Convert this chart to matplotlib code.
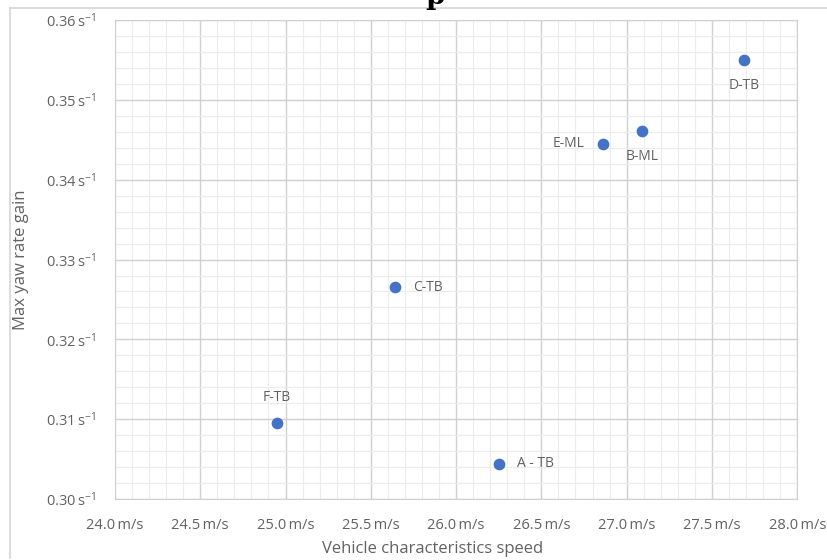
import matplotlib
matplotlib.use("Agg")
import matplotlib.pyplot as plt
from matplotlib.ticker import MultipleLocator, FuncFormatter
from matplotlib.lines import Line2D

plt.rcParams["font.family"] = ["Open Sans", "DejaVu Sans"]
plt.rcParams["mathtext.fontset"] = "custom"
plt.rcParams["mathtext.rm"] = "Open Sans"
plt.rcParams["mathtext.it"] = "Open Sans"
plt.rcParams["mathtext.default"] = "regular"

# Vehicle data
vehicles = ["D-TB", "B-ML", "E-ML", "C-TB", "F-TB", "A - TB"]
char_speed = [27.69, 27.09, 26.86, 25.64, 24.95, 26.25]   # m/s
yaw_gain = [0.3550, 0.3461, 0.3445, 0.3265, 0.3095, 0.3044]  # 1/s

# label offsets (points) and alignment per vehicle
label_pos = {
    "D-TB": ((0, -13), "center", "top"),
    "B-ML": ((0, -13), "center", "top"),
    "E-ML": ((-13, 0), "right", "center"),
    "C-TB": ((13, 0), "left", "center"),
    "F-TB": ((0, 13), "center", "bottom"),
    "A - TB": ((13, 0), "left", "center"),
}

grey = "#626262"

fig = plt.figure(figsize=(8.27, 5.6), dpi=100)
ax = fig.add_axes([0.139, 0.109, 0.825, 0.855])

ax.scatter(char_speed, yaw_gain, s=55, color="#4472C4", zorder=3)
for name, xv, yv in zip(vehicles, char_speed, yaw_gain):
    off, ha, va = label_pos[name]
    ax.annotate(name, (xv, yv), xytext=off, textcoords="offset points",
                ha=ha, va=va, fontsize=10, color=grey)

ax.set_xlim(24.0, 28.0)
ax.set_ylim(0.30, 0.36)
ax.xaxis.set_major_locator(MultipleLocator(0.5))
ax.xaxis.set_minor_locator(MultipleLocator(0.1))
ax.yaxis.set_major_locator(MultipleLocator(0.01))
ax.yaxis.set_minor_locator(MultipleLocator(0.002))
ax.xaxis.set_major_formatter(FuncFormatter(lambda v, p: f"{v:.1f}\u2009m/s"))
ax.yaxis.set_major_formatter(FuncFormatter(lambda v, p: f"{v:.2f}\u2009s$^{{-1}}$"))

ax.grid(which="major", color="#d0d0d0", linewidth=1.0)
ax.grid(which="minor", color="#ececec", linewidth=0.8)
ax.set_axisbelow(True)
for sp in ax.spines.values():
    sp.set_color("#d0d0d0")
ax.tick_params(which="both", length=0, colors=grey, labelsize=10.5)
ax.tick_params(axis="x", pad=14)
ax.tick_params(axis="y", pad=14)

ax.set_xlabel("Vehicle characteristics speed", fontsize=12, color=grey)
ax.set_ylabel("Max yaw rate gain", fontsize=12, color=grey)
ax.xaxis.set_label_coords(0.466, -0.087)
ax.yaxis.set_label_coords(-0.126, 0.5)

# outer chart frame (left and top edges)
fig.add_artist(Line2D([10 / 827, 10 / 827], [2 / 560, 1 - 8 / 560],
                      transform=fig.transFigure, color="#d6d6d6", lw=1.2))
fig.add_artist(Line2D([10 / 827, 1], [1 - 8 / 560, 1 - 8 / 560],
                      transform=fig.transFigure, color="#d6d6d6", lw=1.2))

# title of the page above, cut off at the top edge
fig.text(435 / 827, 1 - 4 / 560, "p", fontsize=20, fontweight="bold",
         family="DejaVu Serif", ha="center", va="baseline")

fig.savefig("out.png", dpi=100)
